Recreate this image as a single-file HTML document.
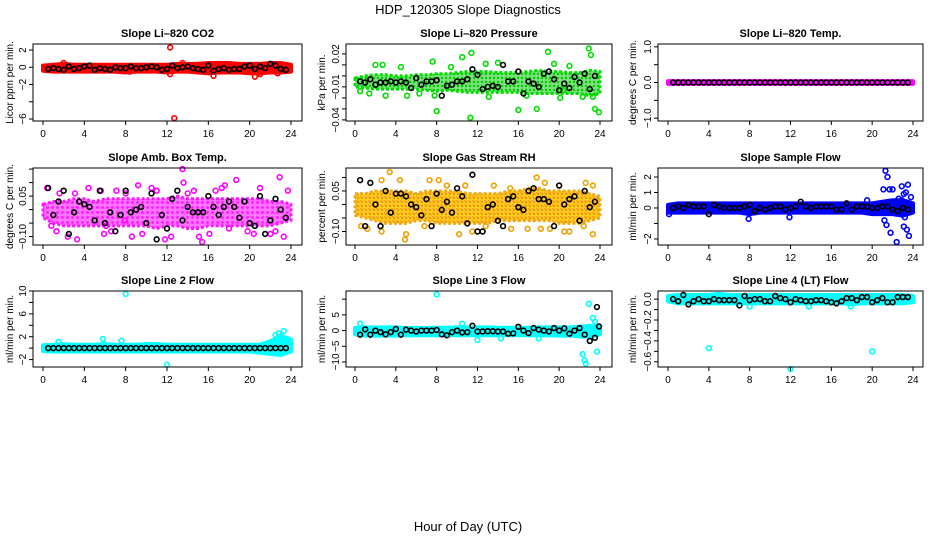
<!DOCTYPE html>
<html><head><meta charset="utf-8">
<style>
html,body{margin:0;padding:0;background:#fff;}
svg{display:block;font-family:"Liberation Sans",sans-serif;}
</style></head>
<body>
<svg id="chart" width="936" height="540" viewBox="0 0 936 540">
<defs>
<pattern id="pat-green" width="4" height="4" patternUnits="userSpaceOnUse"><rect width="4" height="4" fill="#7fe07f"/><circle cx="2" cy="2" r="1.2" fill="#00cc00"/></pattern>
<pattern id="pat-orange" width="4" height="4" patternUnits="userSpaceOnUse"><rect width="4" height="4" fill="#ffd000"/><circle cx="2" cy="2" r="1.3" fill="#e89000"/><circle cx="0" cy="0" r="0.8" fill="#ff3000"/></pattern>
<pattern id="pat-magenta" width="5" height="5" patternUnits="userSpaceOnUse"><rect width="5" height="5" fill="#ff66ff"/><circle cx="2.5" cy="2.5" r="1.4" fill="#ff00ff"/></pattern>
</defs>
<text x="468" y="14" text-anchor="middle" font-size="13">HDP_120305  Slope Diagnostics</text>
<text x="468" y="531" text-anchor="middle" font-size="13">Hour of Day (UTC)</text>
</svg>
<script>
// shared categories
const xTicks = [0,4,8,12,16,20,24];
const blackHours = [0.5,1,1.5,2,2.5,3,3.5,4,4.5,5,5.5,6,6.5,7,7.5,8,8.5,9,9.5,10,10.5,11,11.5,12,12.5,13,13.5,14,14.5,15,15.5,16,16.5,17,17.5,18,18.5,19,19.5,20,20.5,21,21.5,22,22.5,23,23.5];
const bandHours = [0,1,2,3,4,5,6,7,8,9,10,11,12,13,14,15,16,17,18,19,20,21,22,23,24];

// Panel 1: CO2
const p1Black = [-0.2,-0.1,-0.2,-0.3,0.1,-0.2,-0.1,0.1,0.2,-0.3,-0.1,-0.2,-0.3,0,-0.1,-0.1,0.1,-0.1,-0.1,0,0.1,0,-0.3,-0.2,0.2,-0.1,0,0.1,-0.1,-0.2,-0.3,0.2,-0.4,-0.2,-0.1,-0.3,-0.2,-0.2,0.1,0.2,-0.2,0.1,-0.1,0.4,0.2,-0.2,-0.3];
const p1Hi = [0.2,0.3,0.4,0.3,0.3,0.3,0.3,0.3,0.3,0.3,0.3,0.3,0.3,0.4,0.4,0.4,0.5,0.5,0.5,0.4,0.4,0.4,0.5,0.5,0.3];
const p1Lo = [-0.4,-0.5,-0.5,-0.5,-0.5,-0.5,-0.5,-0.5,-0.6,-0.5,-0.5,-0.5,-0.6,-0.5,-0.5,-0.6,-0.7,-0.6,-0.6,-0.6,-0.7,-0.7,-0.6,-0.6,-0.5];
const p1OutX = [12.3,12.7,16.5,20.5,12.3,2.0,22.7,8.4,21.0,13.5];
const p1OutY = [2.3,-5.9,-1.0,-1.1,-0.8,0.5,-0.7,-0.5,-0.8,0.5];

// Panel 2: Pressure
const p2Black = [-0.005,-0.006,-0.003,-0.008,-0.006,-0.006,-0.005,-0.006,-0.005,-0.006,-0.011,-0.002,-0.008,-0.005,-0.005,-0.004,-0.018,-0.009,-0.008,-0.005,-0.005,-0.003,0.006,0.001,-0.012,-0.010,-0.009,-0.010,0.010,-0.005,-0.005,0.004,-0.016,-0.005,-0.007,-0.010,0.002,0.004,-0.003,-0.013,-0.007,-0.011,-0.001,-0.006,0.002,-0.012,0.000];
const p2Hi = [-0.002,0.000,0.001,0.001,0.000,0.000,0.001,0.001,0.002,0.002,0.003,0.004,0.004,0.004,0.003,0.003,0.003,0.004,0.005,0.004,0.004,0.003,0.003,0.005,0.004];
const p2Lo = [-0.010,-0.011,-0.012,-0.012,-0.012,-0.012,-0.012,-0.013,-0.014,-0.013,-0.014,-0.015,-0.015,-0.015,-0.015,-0.015,-0.015,-0.016,-0.016,-0.016,-0.016,-0.016,-0.016,-0.018,-0.016];
const p2OutX = [11.3,8.0,16.0,17.8,11.4,18.9,22.9,23.5,23.9,2.0,2.7,10.5,0.5,1.4,7.6,23.1,23.3,5.1,13.1,22.3,20.4,7.8,14.0,19.5,21.0,3.0,9.4,12.8,16.8,20.1,6.3,4.5];
const p2OutY = [-0.038,-0.032,-0.031,-0.030,0.021,0.022,0.025,-0.030,-0.033,0.010,0.010,0.017,-0.014,-0.016,0.013,0.019,-0.019,-0.018,-0.019,-0.019,-0.013,-0.018,0.012,0.011,0.009,-0.018,0.008,0.011,-0.018,-0.020,-0.016,0.008];

// Panel 3: Temp
const p3Black = [0,0,0,0,0,0,0,0,0,0,0,0,0,0,0,0,0,0,0,0,0,0,0,0,0,0,0,0,0,0,0,0,0,0,0,0,0,0,0,0,0,0,0,0,0,0,0];
const p3Hi = [0.04,0.04,0.04,0.04,0.04,0.04,0.04,0.04,0.04,0.04,0.04,0.04,0.04,0.04,0.04,0.04,0.04,0.04,0.04,0.04,0.04,0.04,0.04,0.04,0.04];
const p3Lo = [-0.04,-0.04,-0.04,-0.04,-0.04,-0.04,-0.04,-0.04,-0.04,-0.04,-0.04,-0.04,-0.04,-0.04,-0.04,-0.04,-0.04,-0.04,-0.04,-0.04,-0.04,-0.04,-0.04,-0.04,-0.04];
const p3OutX = [];
const p3OutY = [];

// Panel 4: Amb box temp
const p4Black = [0.08,-0.02,0.03,0.07,-0.09,-0.01,0.03,0.02,0.01,-0.04,0.07,-0.05,-0.01,-0.08,-0.02,0.07,-0.01,0.00,0.01,-0.05,0.06,-0.11,-0.02,-0.07,0.04,0.07,-0.04,0.01,-0.01,-0.01,-0.01,0.05,0.01,-0.02,0.01,0.03,0.01,-0.03,0.03,-0.05,-0.06,0.05,-0.09,-0.04,0.04,0.00,-0.03];
const p4Hi = [0.02,0.03,0.03,0.04,0.04,0.03,0.04,0.04,0.04,0.04,0.04,0.04,0.04,0.05,0.04,0.04,0.04,0.04,0.04,0.04,0.04,0.04,0.03,0.03,0.02];
const p4Lo = [-0.03,-0.05,-0.06,-0.06,-0.06,-0.06,-0.06,-0.06,-0.06,-0.06,-0.06,-0.07,-0.06,-0.06,-0.07,-0.07,-0.06,-0.06,-0.06,-0.06,-0.06,-0.06,-0.06,-0.05,-0.04];
const p4OutX = [0.4,1.3,1.6,3.3,4.4,5.6,6.6,7.1,7.9,8.6,9.2,10.5,11.8,13.5,13.6,14.6,15.1,15.4,16.7,17.6,18.0,18.7,19.8,21.0,22.0,22.9,23.3,2.4,3.1,5.9,8.0,9.6,11.0,12.4,14.0,16.1,17.3,20.4,22.5,23.7,0.8,6.1];
const p4OutY = [0.08,-0.08,0.06,-0.11,0.08,0.07,-0.08,0.07,-0.04,-0.10,0.09,0.08,-0.11,0.15,0.10,0.07,-0.10,-0.12,0.07,0.09,-0.07,0.11,-0.08,0.08,-0.09,0.12,-0.10,-0.10,0.06,-0.09,0.06,-0.09,0.07,-0.10,0.06,-0.09,0.08,-0.09,-0.08,0.07,-0.06,-0.06];

// Panel 5: Gas stream RH
const p5Black = [0.09,-0.08,0.08,0.00,-0.08,0.05,-0.03,0.04,0.04,0.03,0.00,-0.01,-0.04,0.02,-0.08,0.04,-0.02,0.01,-0.03,0.06,0.03,-0.07,0.11,-0.10,-0.10,-0.01,0.00,-0.06,-0.08,0.02,0.03,-0.01,-0.02,0.05,0.06,0.02,0.02,0.01,-0.08,0.07,0.00,0.02,0.03,-0.06,0.05,-0.01,0.01];
const p5Hi = [0.04,0.04,0.05,0.05,0.05,0.05,0.04,0.05,0.05,0.05,0.05,0.04,0.04,0.04,0.04,0.05,0.05,0.06,0.06,0.05,0.05,0.05,0.05,0.04,0.03];
const p5Lo = [-0.04,-0.05,-0.06,-0.07,-0.07,-0.07,-0.06,-0.06,-0.07,-0.07,-0.07,-0.07,-0.07,-0.07,-0.06,-0.06,-0.06,-0.06,-0.06,-0.06,-0.07,-0.07,-0.07,-0.06,-0.05];
const p5OutX = [3.4,4.9,5.0,7.3,8.2,2.6,4.4,9.0,10.8,13.6,15.2,17.8,18.6,21.0,22.6,23.3,0.6,1.2,2.6,6.8,10.2,12.8,15.3,16.9,19.1,20.5,22.4,23.3,11.5,18.2];
const p5OutY = [0.12,-0.13,-0.11,0.09,0.09,0.09,0.09,0.07,0.07,0.07,0.06,0.10,0.08,-0.10,0.08,0.07,-0.08,-0.09,-0.10,-0.08,-0.11,-0.08,-0.09,-0.09,-0.09,-0.10,-0.08,-0.11,-0.10,-0.09];

// Panel 6: Sample flow
const p6Black = [0.0,0.1,0.0,0.2,0.1,0.1,0.1,-0.4,0.2,0.1,0.0,0.0,0.0,0.0,0.1,0.2,-0.2,0.0,-0.1,0.0,0.1,0.1,-0.1,0.0,0.1,0.4,0.1,0.0,0.1,0.1,0.1,0.1,-0.1,-0.1,0.3,-0.1,0.1,0.1,0.1,0.0,0.0,0.1,0.1,-0.1,-0.2,0.0,-0.1];
const p6Hi = [0.2,0.3,0.3,0.3,0.3,0.3,0.3,0.3,0.3,0.3,0.3,0.3,0.3,0.3,0.3,0.3,0.3,0.3,0.3,0.3,0.3,0.4,0.5,0.5,0.3];
const p6Lo = [-0.3,-0.3,-0.3,-0.3,-0.3,-0.3,-0.3,-0.3,-0.4,-0.3,-0.3,-0.3,-0.3,-0.3,-0.3,-0.3,-0.3,-0.3,-0.3,-0.3,-0.4,-0.4,-0.4,-0.5,-0.3];
const p6OutX = [21.3,21.5,21.1,21.7,22.0,21.2,21.4,21.8,22.4,22.6,22.9,23.1,23.3,23.5,23.6,23.8,23.1,23.2,22.9,23.4,7.9,11.9,0.1,19.5];
const p6OutY = [2.4,2.0,1.2,1.2,1.2,-0.8,-1.1,-1.6,-2.2,0.6,1.4,0.9,1.0,1.5,-1.8,0.7,-1.2,-0.6,0.5,-1.4,-0.7,-0.6,-0.4,0.5];

// Panel 7: Line 2 flow
const p7Black = [0,0,0,0,0,0,0,0,0,0,0,0,0,0,0,0,0,0,0,0,0,0,0,0,0,0,0,0,0,0,0,0,0,0,0,0,0,0,0,0,0,0,0,0,0,0,0];
const p7Hi = [0.5,0.6,0.7,0.6,0.6,0.6,0.7,0.6,0.6,0.6,0.7,0.7,0.6,0.6,0.6,0.6,0.6,0.6,0.6,0.6,0.6,0.6,1.2,2.2,1.5];
const p7Lo = [-0.5,-0.6,-0.6,-0.6,-0.6,-0.6,-0.6,-0.6,-0.6,-0.6,-0.6,-0.6,-0.6,-0.6,-0.6,-0.6,-0.6,-0.6,-0.6,-0.6,-0.6,-0.8,-1.0,-1.2,-0.6];
const p7OutX = [8.0,12.0,5.8,7.6,23.3,22.5,22.8,23.8,1.5];
const p7OutY = [9.5,-2.9,1.6,1.3,3.0,2.3,2.6,1.5,1.1];

// Panel 8: Line 3 flow
const p8Black = [-1.3,0.4,-1.3,0.0,-0.5,-1.2,-0.5,0.5,-1.3,0.3,0.0,-0.3,0.0,0.0,0.0,0.2,-1.2,-1.5,-0.5,0.0,-0.6,-0.5,1.5,-0.3,-0.3,-0.2,-0.2,-0.3,-0.3,-1.0,-0.9,1.2,0.0,-0.8,0.8,0.3,0.0,-0.3,0.8,0.0,0.7,-1.0,0.0,0.8,-1.3,-3.3,-2.3];
const p8Hi = [0.8,1.0,1.0,1.0,1.0,0.8,0.8,0.8,0.9,0.9,1.0,1.0,1.0,1.0,0.9,0.9,0.9,0.9,1.0,1.0,1.0,1.0,1.2,1.5,1.0];
const p8Lo = [-1.2,-1.6,-1.6,-1.6,-1.6,-1.5,-1.5,-1.5,-1.5,-1.5,-1.5,-1.5,-1.5,-1.5,-1.5,-1.5,-1.5,-1.5,-1.5,-1.5,-1.6,-1.6,-1.8,-2.0,-1.2];
const p8OutX = [8.0,22.9,22.3,22.6,22.5,23.7,23.3,12.0,18.0,14.3,0.5,10.5,23.5];
const p8OutY = [11.5,8.5,-7.5,-10.5,-9.5,-6.7,4.0,-3.0,-2.5,-2.5,2.2,2.2,2.8];
const p8BlackOutX = [23.7,23.9];
const p8BlackOutY = [7.5,1.3];

// Panel 9: Line 4 flow
const p9Black = [0.00,-0.02,0.04,-0.05,-0.02,0.00,-0.02,-0.02,0.00,-0.01,-0.01,-0.01,-0.01,-0.06,0.03,-0.01,0.00,0.00,-0.02,-0.02,0.03,0.01,0.00,-0.03,0.00,-0.01,-0.02,-0.02,-0.01,-0.01,-0.02,-0.03,-0.04,-0.02,0.01,0.01,-0.01,0.02,0.02,-0.03,-0.01,0.01,-0.03,-0.03,0.02,0.02,0.02];
const p9Hi = [0.03,0.04,0.04,0.04,0.04,0.05,0.04,0.04,0.04,0.04,0.04,0.04,0.04,0.04,0.04,0.04,0.04,0.04,0.04,0.04,0.04,0.04,0.04,0.04,0.03];
const p9Lo = [-0.02,-0.04,-0.04,-0.04,-0.04,-0.04,-0.04,-0.04,-0.04,-0.04,-0.04,-0.04,-0.04,-0.04,-0.04,-0.04,-0.04,-0.04,-0.05,-0.04,-0.04,-0.04,-0.04,-0.04,-0.03];
const p9OutX = [4.0,12.0,20.0,8.0,13.8,17.9];
const p9OutY = [-0.47,-0.67,-0.50,-0.07,-0.07,-0.07];

const panels = [
 {name:'co2',title:'Slope Li\u2013820 CO2',yLab:'Licor ppm per min.',col:0,row:0,ymin:-6.23,ymax:2.7,ticks:[-6,-4,-2,0,2],labels:['\u22126','','\u22122','0','2'],color:'#ff0000',fill:'#ff0000',black:p1Black,hi:p1Hi,lo:p1Lo,ox:p1OutX,oy:p1OutY,band:1},
 {name:'pressure',title:'Slope Li\u2013820 Pressure',yLab:'kPa per min.',col:1,row:0,ymin:-0.041,ymax:0.029,ticks:[-0.04,-0.03,-0.02,-0.01,0,0.01,0.02],labels:['\u22120.04','','','\u22120.01','','','0.02'],color:'#00dd00',fill:'url(#pat-green)',black:p2Black,hi:p2Hi,lo:p2Lo,ox:p2OutX,oy:p2OutY,band:1,dash:1},
 {name:'temp',title:'Slope Li\u2013820 Temp.',yLab:'degrees C per min.',col:2,row:0,ymin:-1.08,ymax:1.08,ticks:[-1,-0.5,0,0.5,1],labels:['\u22121.0','','0.0','','1.0'],color:'#ff00ff',fill:'#ff00ff',black:p3Black,hi:p3Hi,lo:p3Lo,ox:p3OutX,oy:p3OutY,band:1},
 {name:'amb-box-temp',title:'Slope Amb. Box Temp.',yLab:'degrees C per min.',col:0,row:1,ymin:-0.131,ymax:0.154,ticks:[-0.1,-0.05,0,0.05,0.1,0.15],labels:['\u22120.10','','','0.05','',''],color:'#ff00ff',fill:'url(#pat-magenta)',black:p4Black,hi:p4Hi,lo:p4Lo,ox:p4OutX,oy:p4OutY,band:0.9,dash:1},
 {name:'gas-stream-rh',title:'Slope Gas Stream RH',yLab:'percent per min.',col:1,row:1,ymin:-0.15,ymax:0.135,ticks:[-0.1,-0.05,0,0.05,0.1],labels:['\u22120.10','','','0.05',''],color:'#f0a000',fill:'url(#pat-orange)',black:p5Black,hi:p5Hi,lo:p5Lo,ox:p5OutX,oy:p5OutY,band:0.9,dash:1},
 {name:'sample-flow',title:'Slope Sample Flow',yLab:'ml/min per min.',col:2,row:1,ymin:-2.39,ymax:2.58,ticks:[-2,-1,0,1,2],labels:['\u22122','','0','1','2'],color:'#0000ff',fill:'#0000ff',black:p6Black,hi:p6Hi,lo:p6Lo,ox:p6OutX,oy:p6OutY,band:1},
 {name:'line2-flow',title:'Slope Line 2 Flow',yLab:'ml/min per min.',col:0,row:2,ymin:-3.3,ymax:10,ticks:[-2,0,2,4,6,8,10],labels:['\u22122','','2','','6','','10'],color:'#00ffff',fill:'#00ffff',black:p7Black,hi:p7Hi,lo:p7Lo,ox:p7OutX,oy:p7OutY,band:1},
 {name:'line3-flow',title:'Slope Line 3 Flow',yLab:'ml/min per min.',col:1,row:2,ymin:-11.6,ymax:12.6,ticks:[-10,-5,0,5,10],labels:['\u221210','\u22125','0','5',''],color:'#00ffff',fill:'#00ffff',black:p8Black,hi:p8Hi,lo:p8Lo,ox:p8OutX,oy:p8OutY,band:1,bx:p8BlackOutX,by:p8BlackOutY},
 {name:'line4-flow',title:'Slope Line 4 (LT) Flow',yLab:'ml/min per min.',col:2,row:2,ymin:-0.65,ymax:0.078,ticks:[-0.6,-0.5,-0.4,-0.3,-0.2,-0.1,0],labels:['\u22120.6','','\u22120.4','','\u22120.2','','0.0'],color:'#00ffff',fill:'#00ffff',black:p9Black,hi:p9Hi,lo:p9Lo,ox:p9OutX,oy:p9OutY,band:1}
];

const colGeo = [{l:33,r:302,x0:43,x24:291,yl:9},{l:346,r:612,x0:355,x24:600,yl:321},{l:658,r:923,x0:668,x24:913,yl:632}];
const rowGeo = [{t:44,b:121},{t:168,b:245},{t:291,b:367}];
const svg = document.getElementById('chart');
const NS = 'http://www.w3.org/2000/svg';
function mk(tag, attrs, parent){
  const e = document.createElementNS(NS, tag);
  for (const k in attrs) e.setAttribute(k, attrs[k]);
  parent.appendChild(e);
  return e;
}

panels.forEach(p => {
  const c = colGeo[p.col], r = rowGeo[p.row];
  const xs = h => c.x0 + (c.x24 - c.x0) * h / 24;
  const ys = v => r.b - (v - p.ymin) / (p.ymax - p.ymin) * (r.b - r.t);
  const g = mk('g', {}, svg);
  
  

  const tt = mk('text', {x:(c.l + c.r) / 2, y:r.t - 7, 'text-anchor':'middle', 'font-size':'11', 'font-weight':'bold'}, g);
  tt.textContent = p.title;
  
  

  const yl = mk('text', {x:0, y:0, 'text-anchor':'middle', 'font-size':'10', transform:'translate(' + (c.yl + 4) + ',' + ((r.t + r.b) / 2) + ') rotate(-90)'}, g);
  yl.textContent = p.yLab;
  
  

  let pts = [];
  bandHours.forEach((h, i) => pts.push(xs(h) + ',' + ys(p.hi[i])));
  for (let i = bandHours.length - 1; i >= 0; i--) pts.push(xs(bandHours[i]) + ',' + ys(p.lo[i]));
  const battrs = {points:pts.join(' '), fill:p.fill, stroke:p.color, 'stroke-width':'4', 'stroke-linejoin':'round', opacity:p.band};
  if (p.dash) { battrs['stroke-dasharray'] = '3 2'; battrs['stroke-width'] = '3'; }
  const band = mk('polygon', battrs, g);
  
  

  p.ox.forEach((h, i) => {
    const m = mk('circle', {cx:xs(h), cy:ys(p.oy[i]), r:2.4, fill:'none', stroke:p.color, 'stroke-width':1.6}, g);
    
    
  });
  blackHours.forEach((h, i) => {
    const m = mk('circle', {cx:xs(h), cy:ys(p.black[i]), r:2.4, fill:'none', stroke:'#000', 'stroke-width':1.6}, g);
    
    
  });
  if (p.bx) p.bx.forEach((h, i) => {
    const m = mk('circle', {cx:xs(h), cy:ys(p.by[i]), r:2.4, fill:'none', stroke:'#000', 'stroke-width':1.6}, g);
    
    
  });

  const box = mk('rect', {x:c.l, y:r.t, width:c.r - c.l, height:r.b - r.t, fill:'none', stroke:'#000', 'stroke-width':1}, g);
  
  

  xTicks.forEach(t => {
    mk('line', {x1:xs(t), x2:xs(t), y1:r.b, y2:r.b + 4, stroke:'#000'}, g);
    const tl = mk('text', {x:xs(t), y:r.b + 16, 'text-anchor':'middle', 'font-size':'10'}, g);
    tl.textContent = t;
    
    
  });
  p.ticks.forEach((t, i) => {
    mk('line', {x1:c.l - 4, x2:c.l, y1:ys(t), y2:ys(t), stroke:'#000'}, g);
    if (p.labels[i]) {
      const tl = mk('text', {x:0, y:0, 'text-anchor':'middle', 'font-size':'10', transform:'translate(' + (c.l - 7) + ',' + ys(t) + ') rotate(-90)'}, g);
      tl.textContent = p.labels[i];
      
      
    }
  });
});
</script>
</body></html>
